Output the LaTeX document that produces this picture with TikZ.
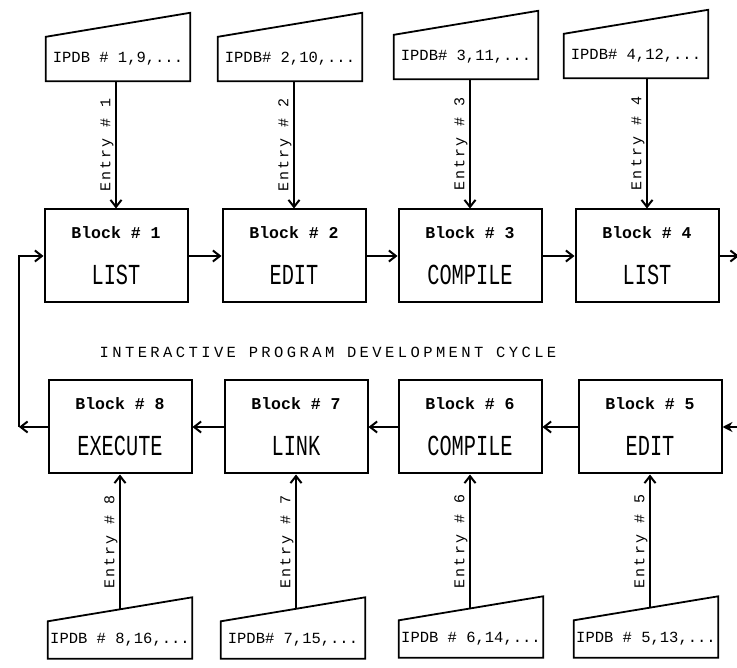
\documentclass[tikz,border=0pt]{standalone}
\usepackage{fontspec}
\setmainfont{Liberation Mono}
\newfontfamily\stepfont[FakeStretch=0.7]{Liberation Mono}
\newfontfamily\titlefont[LetterSpace=22]{Liberation Mono}
\newfontfamily\entryfont[LetterSpace=14]{Liberation Mono}
\usetikzlibrary{arrows.meta, calc}

% block text: small heading over the step name
\newcommand{\blocktext}[2]{{\rmfamily\bfseries\fontsize{16.5}{46}\selectfont Block \# #1}\\#2}

\begin{document}
\begin{tikzpicture}[x=1pt, y=-1pt,
   block/.style={draw, line width=2pt, minimum width=143pt, minimum height=93pt,
      inner sep=0pt, align=center, font=\stepfont\fontsize{29}{46}\selectfont},
   ipdbtop/.style={minimum width=144pt, minimum height=44pt, inner sep=0pt,
      font=\fontsize{15.5}{17}\selectfont},
   ipdbbot/.style={ipdbtop, minimum height=37pt},
   flow/.style={line width=2pt, -{Straight Barb[length=7pt, width=11pt]}},
   entry/.style={midway, rotate=90, anchor=south, inner sep=1.5pt,
      font=\entryfont\fontsize{15}{17}\selectfont}]
   \useasboundingbox (0,0) rectangle (737,668);
   % Input data blocks, top row
   \node[ipdbtop] (in1) at (118,59) {IPDB \# 1,9,...};
   \node[ipdbtop] (in2) at (290,59) {IPDB\# 2,10,...};
   \node[ipdbtop] (in3) at (466,57) {IPDB\# 3,11,...};
   \node[ipdbtop] (in4) at (636,56) {IPDB\# 4,12,...};
   % Input data blocks, bottom row
   \node[ipdbbot] (in8) at (120,640) {IPDB \# 8,16,...};
   \node[ipdbbot] (in7) at (293,640) {IPDB\# 7,15,...};
   \node[ipdbbot] (in6) at (471,639) {IPDB \# 6,14,...};
   \node[ipdbbot] (in5) at (646,639) {IPDB \# 5,13,...};
   \foreach \i in {1,...,8}
      \draw[line width=1.8pt] (in\i.south west) -- (in\i.south east)
         -- ([yshift=24pt]in\i.north east) -- (in\i.north west) -- cycle;
   % Program blocks
   \node[block] (blk1) at (116,256) {\blocktext{1}{LIST}};
   \node[block] (blk2) at (294,256) {\blocktext{2}{EDIT}};
   \node[block] (blk3) at (470,256) {\blocktext{3}{COMPILE}};
   \node[block] (blk4) at (647,256) {\blocktext{4}{LIST}};
   \node[block] (blk8) at (120,427) {\blocktext{8}{EXECUTE}};
   \node[block] (blk7) at (296,427) {\blocktext{7}{LINK}};
   \node[block] (blk6) at (470,427) {\blocktext{6}{COMPILE}};
   \node[block] (blk5) at (650,427) {\blocktext{5}{EDIT}};
   % Title
   \node[font=\titlefont\fontsize{15.5}{17}\selectfont] (title) at (328,352)
      {INTERACTIVE PROGRAM DEVELOPMENT CYCLE};
   % Entries from the top
   \foreach \i in {1,...,4}
      \draw[flow] (blk\i.north |- in\i.south) -- (blk\i.north)
         node[entry] {Entry \# \i};
   % Entries from the bottom
   \foreach \i in {5,...,8} {
      \coordinate (s\i) at ($(in\i.north)+(0,-12)$);
      \draw[flow] (s\i -| blk\i.south) -- (blk\i.south)
         node[entry] {Entry \# \i};
   }
   % Cycle
   \draw[flow] (blk1.east) -- (blk2.west);
   \draw[flow] (blk2.east) -- (blk3.west);
   \draw[flow] (blk3.east) -- (blk4.west);
   \coordinate (out4) at (739,256);
   \draw[flow] (blk4.east) -- (out4);
   \coordinate (back5) at (737,427);
   \draw[line width=2pt, -{Stealth[length=10pt, width=10pt]}] (back5) -- (blk5.east);
   \draw[flow] (blk5.west) -- (blk6.east);
   \draw[flow] (blk6.west) -- (blk7.east);
   \draw[flow] (blk7.west) -- (blk8.east);
   \coordinate (fb) at (19,427);
   \draw[flow] (blk8.west) -- (fb);
   \draw[flow] (fb) |- (blk1.west);
\end{tikzpicture}
\end{document}
